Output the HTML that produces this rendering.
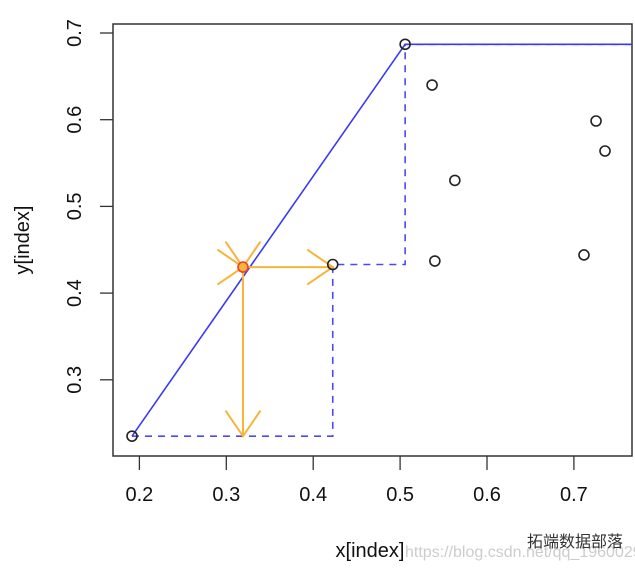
<!DOCTYPE html>
<html><head><meta charset="utf-8"><style>
body{margin:0;background:#fff;}
svg text{font-family:"Liberation Sans","Noto Sans CJK SC",sans-serif;}
</style></head><body>
<svg id="chart" width="635" height="569" viewBox="0 0 635 569" xmlns="http://www.w3.org/2000/svg"></svg>
<script>
const xTicks = [0.2, 0.3, 0.4, 0.5, 0.6, 0.7];
const yTicks = [0.3, 0.4, 0.5, 0.6, 0.7];
const xVals = [0.1915, 0.4225, 0.5058, 0.5368, 0.540, 0.563, 0.7116, 0.7255, 0.7358];
const yVals = [0.235, 0.433, 0.687, 0.640, 0.437, 0.530, 0.444, 0.5985, 0.5639];
const stepX = [0.1915, 0.4225, 0.5058];
const stepY = [0.235, 0.433, 0.687];
const interpX = [0.3192];
const interpY = [0.430];

const svg = document.getElementById('chart');
const NS = 'http://www.w3.org/2000/svg';
const L = 113, T = 24, R = 632, B = 456;
function sx(v){ return 139.4 + (v - 0.2) * 869; }
function sy(v){ return 33 + (0.7 - v) * 867; }
function mk(tag, attrs){ const e = document.createElementNS(NS, tag); for (const k in attrs) e.setAttribute(k, attrs[k]); svg.appendChild(e); return e; }

let e = mk('rect', {x:L, y:T, width:R-L, height:B-T, fill:'none', stroke:'#333', 'stroke-width':1.5});



xTicks.forEach(v => {
  const t = mk('line', {x1:sx(v), x2:sx(v), y1:B, y2:B+14, stroke:'#333', 'stroke-width':1.3});
  
  
  const lb = mk('text', {x:sx(v), y:B+45, 'font-size':20, 'text-anchor':'middle', fill:'#111'});
  lb.textContent = v.toFixed(1);
  
  
});
yTicks.forEach(v => {
  const t = mk('line', {x1:L-13, x2:L, y1:sy(v), y2:sy(v), stroke:'#333', 'stroke-width':1.3});
  
  
  const lb = mk('text', {x:0, y:0, 'font-size':20, 'text-anchor':'middle', fill:'#111', transform:`translate(${L-32},${sy(v)}) rotate(-90)`});
  lb.textContent = v.toFixed(1);
  
  
});

let d = `M${sx(stepX[0])},${sy(stepY[0])}`;
for (let i = 1; i < stepX.length; i++) d += ` H${sx(stepX[i])} V${sy(stepY[i])}`;
d += ` H${R}`;
e = mk('path', {d:d, fill:'none', stroke:'#4a4af5', 'stroke-width':1.6, 'stroke-dasharray':'7,6'});



e = mk('path', {d:`M${sx(stepX[0])},${sy(stepY[0])} L${sx(stepX[2])},${sy(stepY[2])} H${R}`, fill:'none', stroke:'#3a3af5', 'stroke-width':1.6});



const ix = sx(interpX[0]), iy = sy(interpY[0]);
const orange = '#f7b43a';
function head(x, y, ang){
  const len = 31, a = 0.6;
  const p = `M${x - len*Math.cos(ang - a)},${y - len*Math.sin(ang - a)} L${x},${y} L${x - len*Math.cos(ang + a)},${y - len*Math.sin(ang + a)}`;
  const h = mk('path', {d:p, fill:'none', stroke:orange, 'stroke-width':2});
  
  
}
e = mk('line', {x1:ix, y1:iy, x2:sx(stepX[1]), y2:iy, stroke:orange, 'stroke-width':2});


e = mk('line', {x1:ix, y1:iy, x2:ix, y2:sy(stepY[0]), stroke:orange, 'stroke-width':2});


head(sx(stepX[1]), iy, 0);
head(ix, sy(stepY[0]), Math.PI/2);
head(ix, iy, 0);
head(ix, iy, Math.PI/2);

xVals.forEach((v, i) => {
  const c = mk('circle', {cx:sx(v), cy:sy(yVals[i]), r:5, fill:'none', stroke:'#222', 'stroke-width':1.6});
  
  
});
e = mk('circle', {cx:ix, cy:iy, r:5, fill:orange, stroke:'#f04030', 'stroke-width':1.6});



e = mk('text', {x:370, y:557, 'font-size':20, 'text-anchor':'middle', fill:'#111'});
e.textContent = 'x[index]';


e = mk('text', {x:0, y:0, 'font-size':20, 'text-anchor':'middle', fill:'#111', transform:'translate(29,240) rotate(-90)'});
e.textContent = 'y[index]';


e = mk('text', {x:405, y:557, 'font-size':16, fill:'#ccc'});
e.textContent = 'https://blog.csdn.net/qq_19600291';


e = mk('text', {x:527, y:547, 'font-size':16, fill:'#333'});
e.textContent = '拓端数据部落';


</script>
</body></html>
